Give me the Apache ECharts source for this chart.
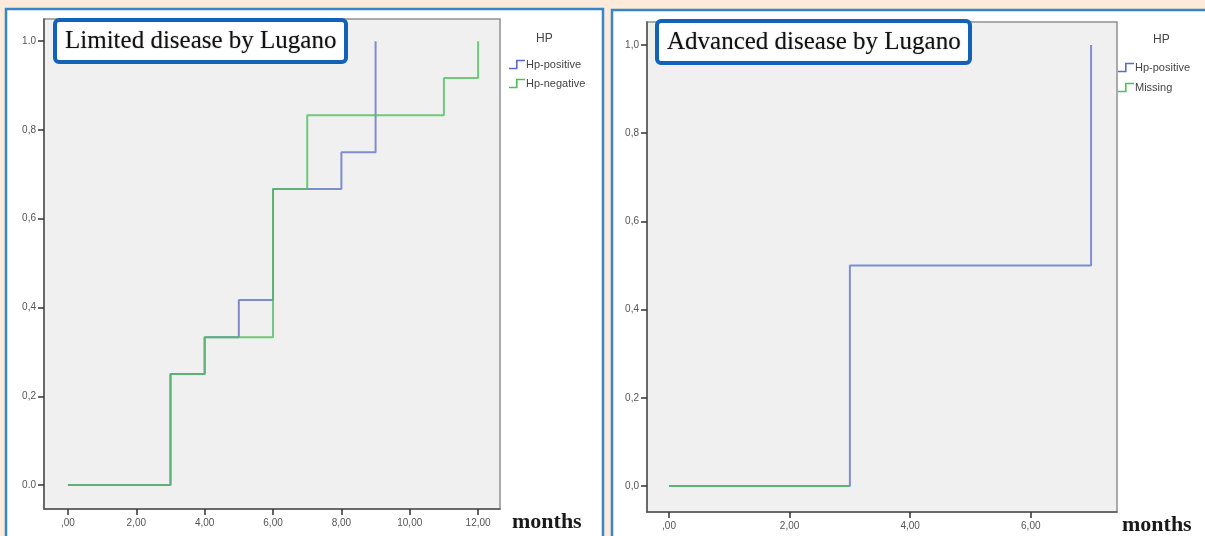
<!DOCTYPE html>
<html>
<head>
<meta charset="utf-8">
<script src="https://cdn.jsdelivr.net/npm/echarts@6/dist/echarts.min.js"></script>
<style>
html,body{margin:0;padding:0;background:#fdeadb;}
#c{width:1205px;height:536px;}
</style>
</head>
<body>
<div id="c"></div>
<script>
// ---- data ----
const leftTitle = "Limited disease by Lugano";
const rightTitle = "Advanced disease by Lugano";
const legendTitle = "HP";
const leftSeriesNames = ["Hp-positive", "Hp-negative"];
const rightSeriesNames = ["Hp-positive", "Missing"];

// Left panel (months, cumulative proportion)
const leftPosMonths = [0, 3, 4, 5, 6, 8, 9];
const leftPosValues = [0, 0.25, 0.333, 0.417, 0.667, 0.75, 1.0];
const leftNegMonths = [0, 3, 4, 6, 7, 11, 12];
const leftNegValues = [0, 0.25, 0.333, 0.667, 0.833, 0.917, 1.0];

// Right panel
const rightPosMonths = [0, 3, 7];
const rightPosValues = [0, 0.5, 1.0];
const rightMissMonths = [0, 3];
const rightMissValues = [0, 0];

// Tick values and labels
const leftXTicks = [0, 2, 4, 6, 8, 10, 12];
const leftXLabels = [",00", "2,00", "4,00", "6,00", "8,00", "10,00", "12,00"];
const rightXTicks = [0, 2, 4, 6];
const rightXLabels = [",00", "2,00", "4,00", "6,00"];
const yTicks = [0, 0.2, 0.4, 0.6, 0.8, 1.0];
const leftYLabels = ["0.0", "0,2", "0,4", "0,6", "0,8", "1.0"];
const rightYLabels = ["0,0", "0,2", "0,4", "0,6", "0,8", "1,0"];
const xName = "months";

// ---- helpers ----
function pairs(xs, ys) { return xs.map((x, i) => [x, ys[i]]); }
function lookup(ticks, labels) {
  return function (v) {
    for (let i = 0; i < ticks.length; i++) if (Math.abs(ticks[i] - v) < 1e-9) return labels[i];
    return "";
  };
}

const BLUE = "#5a6cc4";
const GREEN = "#50bd62";
const stepIcon = "path://M0,9 L7,9 L7,1 L16,1 L16,2.6 L8.6,2.6 L8.6,10.6 L0,10.6 Z";

const labelStyle = { fontFamily: "Liberation Sans, Arial", fontSize: 10, color: "#555" };

function xAxisCfg(gi, min, max, ticks, labels, gap) {
  return {
    type: "value", gridIndex: gi, min: min, max: max,
    name: xName, nameLocation: "end", nameGap: gap,
    nameTextStyle: { fontFamily: "Liberation Serif, Times New Roman, serif", fontSize: 22, fontWeight: "bold", color: "#1a1a1a", verticalAlign: "top", align: "left", padding: [2, 0, 0, 0] },
    axisLine: { show: true, onZero: false, lineStyle: { color: "#555", width: 1.5 } },
    axisTick: { show: true, length: 6, customValues: ticks, lineStyle: { color: "#333", width: 1.5 } },
    axisLabel: Object.assign({ customValues: ticks, margin: 9, formatter: lookup(ticks, labels) }, labelStyle),
    splitLine: { show: false }
  };
}
function yAxisCfg(gi, min, max, labels) {
  return {
    type: "value", gridIndex: gi, min: min, max: max,
    axisLine: { show: true, onZero: false, lineStyle: { color: "#555", width: 1.5 } },
    axisTick: { show: true, length: 6, customValues: yTicks, lineStyle: { color: "#333", width: 1.5 } },
    axisLabel: Object.assign({ customValues: yTicks, margin: 8, formatter: lookup(yTicks, labels) }, labelStyle),
    splitLine: { show: false }
  };
}
function lineSeries(name, xi, data, color, opacity) {
  return {
    type: "line", name: name, xAxisIndex: xi, yAxisIndex: xi,
    data: data, step: "end", showSymbol: false, symbol: "none",
    color: color,
    lineStyle: { width: 2, color: color, opacity: opacity },
    animation: false
  };
}

const titleBox = {
  backgroundColor: "#ffffff", borderColor: "#1262b8", borderWidth: 4, borderRadius: 4,
  padding: [9, 10, 8, 10],
  textStyle: { fontFamily: "Liberation Serif, Times New Roman, serif", fontSize: 25, fontWeight: "normal", color: "#111", textShadowColor: "rgba(0,0,0,0.35)", textShadowBlur: 1.5 }
};

const chart = echarts.init(document.getElementById("c"));
chart.setOption({
  backgroundColor: "#fdeadb",
  animation: false,
  graphic: [
    { type: "rect", shape: { x: 6, y: 9, width: 597, height: 540 }, style: { fill: "#ffffff", stroke: "#3a85c4", lineWidth: 2.5 }, z: -10 },
    { type: "rect", shape: { x: 612, y: 10, width: 600, height: 540 }, style: { fill: "#ffffff", stroke: "#3a85c4", lineWidth: 2.5 }, z: -10 }
  ],
  title: [
    Object.assign({ text: leftTitle, left: 55, top: 20 }, titleBox),
    Object.assign({ text: rightTitle, left: 657, top: 21 }, titleBox),
    { text: legendTitle, left: 531, top: 28, textStyle: { fontFamily: "Liberation Sans, Arial", fontSize: 12, fontWeight: "normal", color: "#444" } },
    { text: legendTitle, left: 1148, top: 29, textStyle: { fontFamily: "Liberation Sans, Arial", fontSize: 12, fontWeight: "normal", color: "#444" } }
  ],
  legend: [
    { data: leftSeriesNames.slice(), orient: "vertical", left: 504, top: 54, itemWidth: 16, itemHeight: 10, itemGap: 8, icon: stepIcon,
      textStyle: { fontFamily: "Liberation Sans, Arial", fontSize: 11, color: "#444", padding: [0, 0, 0, -4] }, selectedMode: false },
    { data: rightSeriesNames.slice(), orient: "vertical", left: 1113, top: 57, itemWidth: 16, itemHeight: 10, itemGap: 9, icon: stepIcon,
      textStyle: { fontFamily: "Liberation Sans, Arial", fontSize: 11, color: "#444", padding: [0, 0, 0, -4] }, selectedMode: false }
  ],
  grid: [
    { left: 44, top: 19, width: 456, height: 490, show: true, backgroundColor: "#f0f0f0", borderColor: "#909090", borderWidth: 1.5 },
    { left: 647, top: 22, width: 470, height: 490, show: true, backgroundColor: "#f0f0f0", borderColor: "#909090", borderWidth: 1.5 }
  ],
  xAxis: [
    xAxisCfg(0, -0.70, 12.64, leftXTicks, leftXLabels, 12),
    xAxisCfg(1, -0.365, 7.43, rightXTicks, rightXLabels, 5)
  ],
  yAxis: [
    yAxisCfg(0, -0.054, 1.050, leftYLabels),
    yAxisCfg(1, -0.059, 1.052, rightYLabels)
  ],
  series: [
    lineSeries(leftSeriesNames[0], 0, pairs(leftPosMonths, leftPosValues), BLUE, 0.75),
    lineSeries(leftSeriesNames[1], 0, pairs(leftNegMonths, leftNegValues), GREEN, 0.8),
    lineSeries(rightSeriesNames[0], 1, pairs(rightPosMonths, rightPosValues), BLUE, 0.75),
    lineSeries(rightSeriesNames[1], 1, pairs(rightMissMonths, rightMissValues), GREEN, 0.8)
  ]
});
</script>
</body>
</html>
